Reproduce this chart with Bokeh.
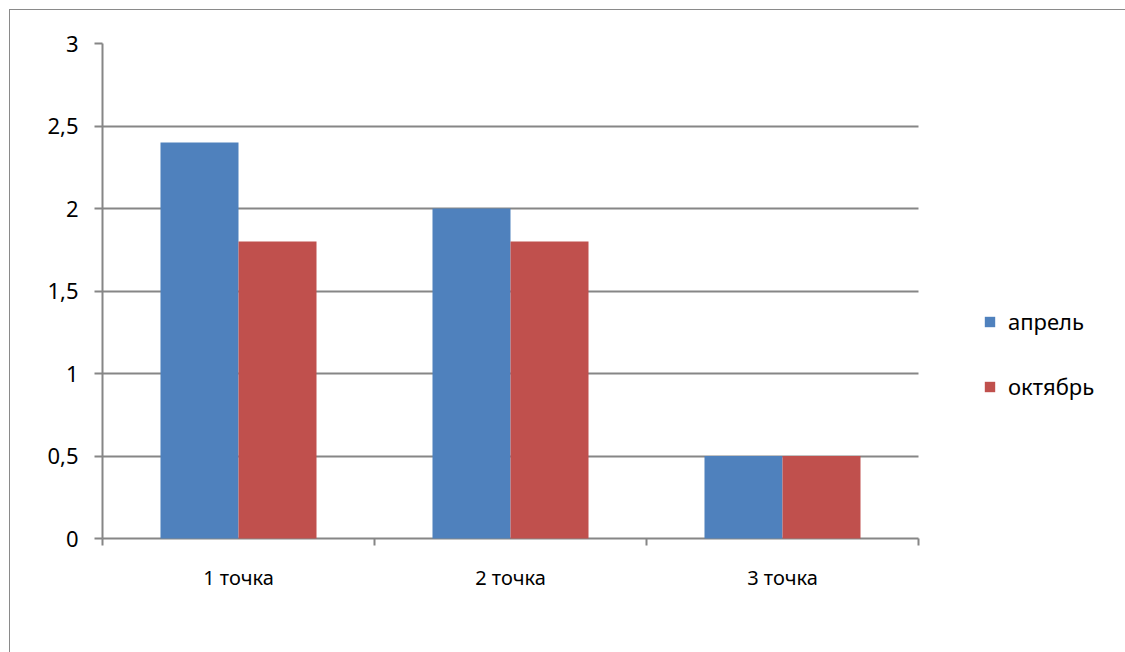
from bokeh.plotting import figure
from bokeh.models import (Range1d, FixedTicker, CustomJSTickFormatter, Legend, LegendItem,
                          ColumnDataSource, Grid)
from bokeh.embed import file_html
from bokeh.resources import INLINE

categories = ["1 точка", "2 точка", "3 точка"]
april = [2.4, 2.0, 0.5]
october = [1.8, 1.8, 0.5]
series_names = ["апрель", "октябрь"]
y_ticks = [0, 0.5, 1, 1.5, 2, 2.5, 3]

BLUE = "#4F81BD"
RED = "#C0504D"
GRID = "#868686"
FONT = "Noto Sans"

n = len(categories)
plot_w = 816
frame_w = 1125 - 102
x_end = n * frame_w / plot_w

p = figure(width=1125, height=652, output_backend="svg", toolbar_location=None,
           x_range=Range1d(0, x_end), y_range=Range1d(0, 3),
           min_border_left=102, min_border_right=0, min_border_top=43, min_border_bottom=114)
p.border_fill_color = None
p.background_fill_color = "white"
p.outline_line_color = None
p.styles = {
    "background-color": "white",
    "background-image": "linear-gradient(#8a8a8a,#8a8a8a), linear-gradient(#8a8a8a,#8a8a8a)",
    "background-position": "9px 9px, 9px 9px",
    "background-size": "1116px 1px, 1px 643px",
    "background-repeat": "no-repeat, no-repeat",
}

bw = 0.2868
centers = [i + 0.5 for i in range(n)]
src_a = ColumnDataSource(dict(x=[c - bw / 2 for c in centers], top=april))
src_o = ColumnDataSource(dict(x=[c + bw / 2 for c in centers], top=october))
ra = p.vbar(x="x", top="top", width=bw, source=src_a, fill_color=BLUE, line_color=None,
            level="overlay")
ro = p.vbar(x="x", top="top", width=bw, source=src_o, fill_color=RED, line_color=None,
            level="overlay")

xa = p.xaxis[0]
xa.bounds = (0, n)
xa.ticker = FixedTicker(ticks=centers, minor_ticks=list(range(n + 1)))
xa.major_label_overrides = {c: lab for c, lab in zip(centers, categories)}
xa.major_tick_out = 0
xa.major_tick_in = 0
xa.minor_tick_out = 7
xa.minor_tick_in = 0
xa.minor_tick_line_color = GRID
xa.minor_tick_line_width = 2
xa.axis_line_color = GRID
xa.axis_line_width = 2
xa.major_label_standoff = 18
xa.major_label_text_font = FONT
xa.major_label_text_font_size = "20px"
xa.major_label_text_color = "black"

ya = p.yaxis[0]
ya.ticker = FixedTicker(ticks=y_ticks, minor_ticks=[])
ya.formatter = CustomJSTickFormatter(code="return tick.toString().replace('.', ',');")
ya.major_tick_out = 8
ya.major_tick_in = 0
ya.major_tick_line_color = GRID
ya.major_tick_line_width = 2
ya.axis_line_color = GRID
ya.axis_line_width = 2
ya.major_label_standoff = 16
ya.major_label_text_font = FONT
ya.major_label_text_font_size = "22px"
ya.major_label_text_color = "black"

p.xgrid.grid_line_color = None
if "cross_bounds" in Grid.properties():
    p.ygrid.ticker = FixedTicker(ticks=y_ticks)
    p.ygrid.cross_bounds = (0, n)
    p.ygrid.grid_line_color = GRID
    p.ygrid.grid_line_width = 2
else:
    p.ygrid.grid_line_color = None
    p.segment(x0=[0] * len(y_ticks), x1=[n] * len(y_ticks), y0=y_ticks, y1=y_ticks,
              line_color=GRID, line_width=2)

legend = Legend(items=[LegendItem(label=series_names[0], renderers=[ra]),
                       LegendItem(label=series_names[1], renderers=[ro])],
                location=(881, 137), orientation="vertical",
                glyph_width=13, glyph_height=13, label_height=30, spacing=35,
                label_standoff=12, padding=0, margin=0,
                border_line_color=None, background_fill_alpha=0,
                label_text_font=FONT, label_text_font_size="22px", label_text_color="black")
p.add_layout(legend, "center")

open("out.html", "w").write(file_html(p, INLINE))
